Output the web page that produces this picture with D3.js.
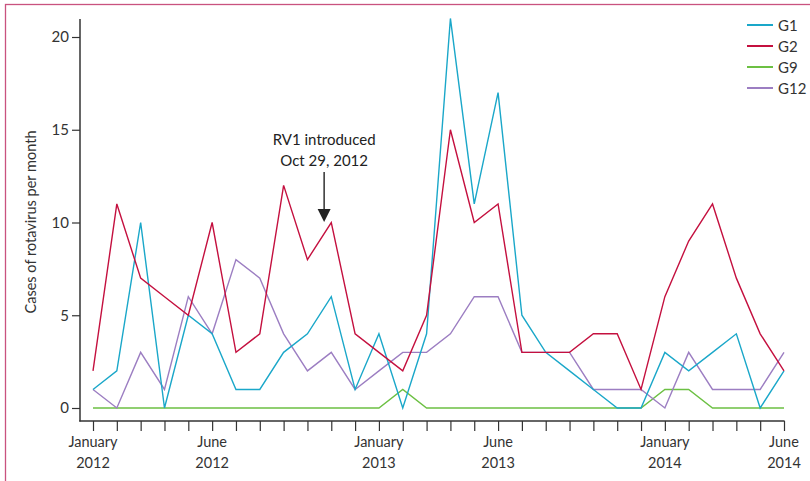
<!DOCTYPE html>
<html>
<head>
<meta charset="utf-8">
<script src="https://cdn.jsdelivr.net/npm/d3@7"></script>
<style>
  body { margin: 0; background: #fff; }
  svg { display: block; font-family: Lato, "Open Sans", sans-serif; }
</style>
</head>
<body>
<svg id="chart" width="810" height="481"></svg>
<script>
const months = d3.range(30); // Jan 2012 .. Jun 2014
const tickMonths = [0, 5, 12, 17, 24, 29];
const tickLabels = [["January", "2012"], ["June", "2012"], ["January", "2013"], ["June", "2013"], ["January", "2014"], ["June", "2014"]];
const yTicks = [0, 5, 10, 15, 20];

const seriesNames = ["G1", "G2", "G9", "G12"];
const g1 = [1, 2, 10, 0, 5, 4, 1, 1, 3, 4, 6, 1, 4, 0, 4, 21, 11, 17, 5, 3, 2, 1, 0, 0, 3, 2, 3, 4, 0, 2];
const g2 = [2, 11, 7, 6, 5, 10, 3, 4, 12, 8, 10, 4, 3, 2, 5, 15, 10, 11, 3, 3, 3, 4, 4, 1, 6, 9, 11, 7, 4, 2];
const g9 = [0, 0, 0, 0, 0, 0, 0, 0, 0, 0, 0, 0, 0, 1, 0, 0, 0, 0, 0, 0, 0, 0, 0, 0, 1, 1, 0, 0, 0, 0];
const g12 = [1, 0, 3, 1, 6, 4, 8, 7, 4, 2, 3, 1, 2, 3, 3, 4, 6, 6, 3, 3, 3, 1, 1, 1, 0, 3, 1, 1, 1, 3];
const seriesColors = ["#1aa7c9", "#c4103f", "#6cc043", "#9c7ec2"];
const annotationMonth = 9.7; // Oct 29, 2012
const annotationText = ["RV1 introduced", "Oct 29, 2012"];

const svg = d3.select("#chart");

// frame
svg.append("rect").attr("x", 5.5).attr("y", 4.5).attr("width", 820).attr("height", 490)
  .attr("fill", "none").attr("stroke", "#c9527f").attr("stroke-width", 1.3);

const x = d3.scaleLinear().domain([0, 29]).range([93, 784]);
const y = d3.scaleLinear().domain([0, 20]).range([408, 37]);

// y axis
const yAxis = svg.append("g").attr("transform", "translate(80,0)")
  .call(d3.axisLeft(y).tickValues(yTicks).tickSize(8).tickPadding(3).tickSizeOuter(0));
yAxis.select(".domain").remove();
yAxis.append("line").attr("x1", 0).attr("x2", 0).attr("y1", 19).attr("y2", 421.5)
  .attr("stroke", "#333").attr("stroke-width", 1.5);
yAxis.selectAll(".tick line").attr("stroke", "#333").attr("stroke-width", 1.2);
yAxis.selectAll(".tick text").attr("font-size", 15).attr("fill", "#333")
  .attr("font-family", "Lato, 'Open Sans', sans-serif");

// x axis
const xAxis = svg.append("g").attr("transform", "translate(0,421)")
  .call(d3.axisBottom(x).tickValues(months).tickSize(10).tickFormat(""));
xAxis.select(".domain").remove();
xAxis.append("line").attr("x1", 79.3).attr("x2", 784.6).attr("y1", 0).attr("y2", 0)
  .attr("stroke", "#333").attr("stroke-width", 1.5);
xAxis.selectAll(".tick line").attr("stroke", "#333").attr("stroke-width", 1.2);

tickMonths.forEach((m, i) => {
  const t = svg.append("text").attr("x", x(m)).attr("text-anchor", "middle")
    .attr("font-size", 14.5).attr("fill", "#333");
  t.append("tspan").attr("x", x(m)).attr("y", 447).text(tickLabels[i][0]);
  t.append("tspan").attr("x", x(m)).attr("y", 468).text(tickLabels[i][1]);
});

// y label
svg.append("text").attr("transform", "translate(36,222) rotate(-90)")
  .attr("text-anchor", "middle").attr("font-size", 14.5).attr("fill", "#333")
  .text("Cases of rotavirus per month");

// lines
const allSeries = [g1, g2, g9, g12];
const line = d3.line().x((d, i) => x(i)).y(d => y(d));
const drawOrder = [2, 3, 0, 1];
drawOrder.forEach(k => {
  svg.append("path").datum(allSeries[k]).attr("d", line)
    .attr("fill", "none").attr("stroke", seriesColors[k]).attr("stroke-width", 1.4)
    .attr("stroke-linejoin", "miter");
});

// annotation
const ax = x(annotationMonth);
svg.append("text").attr("x", ax).attr("y", 145).attr("text-anchor", "middle")
  .attr("font-size", 15).attr("fill", "#222").text(annotationText[0]);
svg.append("text").attr("x", ax).attr("y", 166).attr("text-anchor", "middle")
  .attr("font-size", 15).attr("fill", "#222").text(annotationText[1]);
svg.append("line").attr("x1", ax).attr("x2", ax).attr("y1", 172).attr("y2", 210)
  .attr("stroke", "#222").attr("stroke-width", 1.4);
svg.append("path").attr("d", `M${ax - 6.5},209 L${ax + 6.5},209 L${ax},222 Z`).attr("fill", "#222");

// legend
seriesNames.forEach((name, i) => {
  const ly = 25 + i * 21;
  svg.append("line").attr("x1", 747).attr("x2", 773).attr("y1", ly).attr("y2", ly)
    .attr("stroke", seriesColors[i]).attr("stroke-width", 2);
  svg.append("text").attr("x", 778).attr("y", ly + 5.5).attr("font-size", 15)
    .attr("fill", "#333").text(name);
});
</script>
</body>
</html>
